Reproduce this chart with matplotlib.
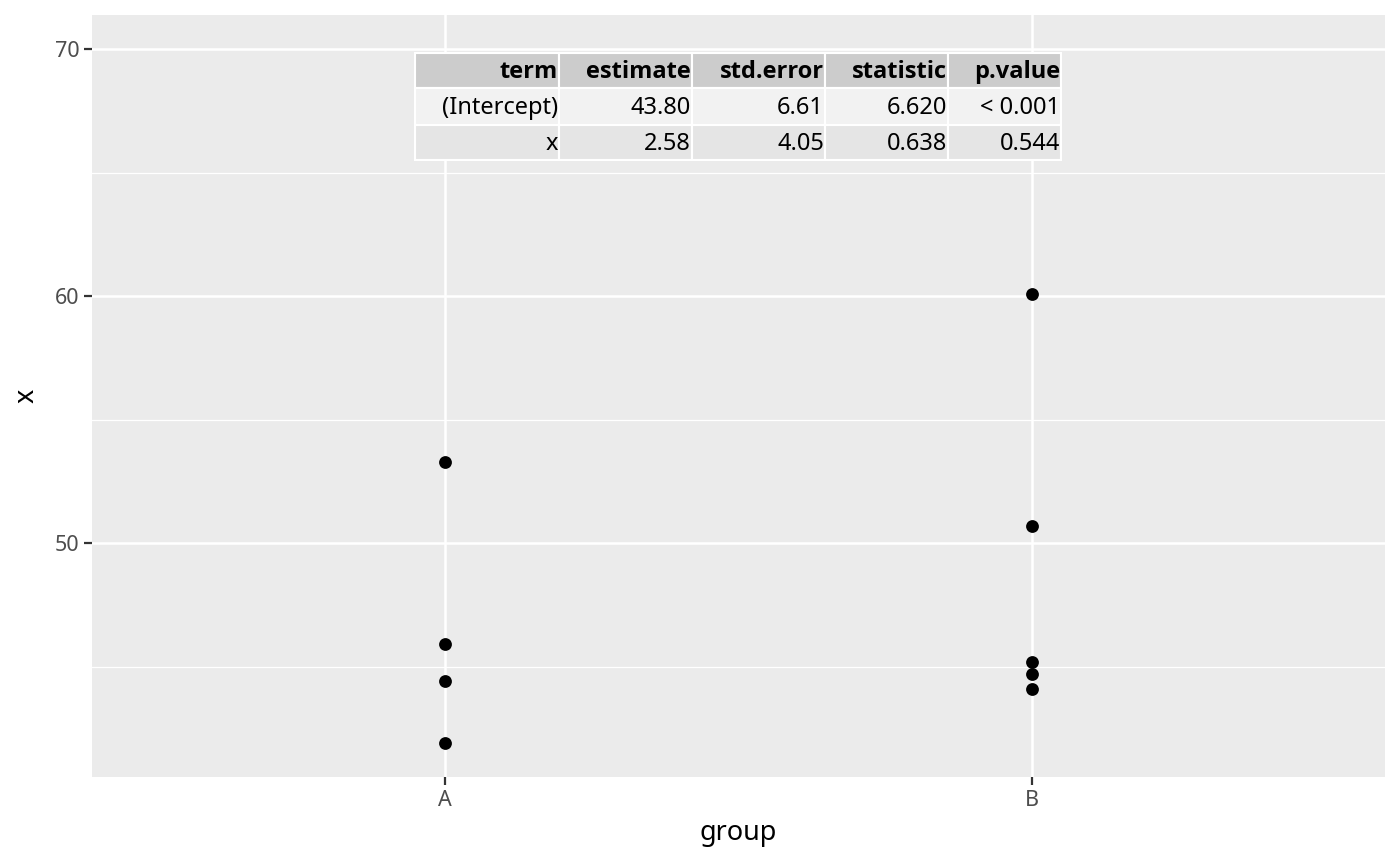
import matplotlib
matplotlib.use("Agg")
import matplotlib.pyplot as plt
from matplotlib.patches import Rectangle

plt.rcParams['font.family'] = ['Noto Sans', 'DejaVu Sans']

# data
groups = ["A", "B"]
values_a = [53.3, 45.9, 44.4, 41.9]
values_b = [60.1, 50.7, 45.2, 44.7, 44.1]

# regression table
col_names = ["term", "estimate", "std.error", "statistic", "p.value"]
terms = ["(Intercept)", "x"]
estimates = ["43.80", "2.58"]
std_errors = ["6.61", "4.05"]
statistics = ["6.620", "0.638"]
p_values = ["< 0.001", "0.544"]

W, H = 1400, 866
fig = plt.figure(figsize=(14, 8.66), dpi=100)
ax = fig.add_axes([92 / W, (H - 777) / H, 1293 / W, 762 / H])

ax.set_facecolor("#EBEBEB")
for s in ax.spines.values():
    s.set_visible(False)

ax.set_xlim(0.4, 2.6)
ax.set_ylim(40.53, 71.38)
ax.set_xticks([1, 2])
ax.set_xticklabels(groups)
ax.set_yticks([50, 60, 70])
ax.set_yticks([45, 55, 65], minor=True)
ax.tick_params(axis="both", which="major", length=6, width=1.6, color="#333333",
               labelcolor="#4D4D4D", labelsize=15.5, pad=3)
ax.tick_params(axis="both", which="minor", length=0)
ax.grid(True, which="major", color="white", linewidth=1.8)
ax.grid(True, which="minor", axis="y", color="white", linewidth=0.9)
ax.set_axisbelow(True)

ax.scatter([1] * len(values_a), values_a, s=85, color="black", zorder=3, linewidths=0)
ax.scatter([2] * len(values_b), values_b, s=85, color="black", zorder=3, linewidths=0)

ax.set_xlabel("group", fontsize=19.5, labelpad=6)
ax.set_ylabel("x", fontsize=19.5, labelpad=10)

# table drawn in pixel coordinates
col_edges = [415, 559, 692, 825, 948, 1061]
row_edges = [53, 88, 125, 160]
row_fill = ["#CCCCCC", "#F2F2F2", "#E5E5E5"]
rows = [col_names] + [list(r) for r in zip(terms, estimates, std_errors, statistics, p_values)]


def fx(px):
    return px / W


def fy(py):
    return (H - py) / H


for i, row in enumerate(rows):
    y0, y1 = row_edges[i], row_edges[i + 1]
    for j, txt in enumerate(row):
        x0, x1 = col_edges[j], col_edges[j + 1]
        fig.add_artist(Rectangle((fx(x0), fy(y1)), fx(x1) - fx(x0), fy(y0) - fy(y1),
                                 transform=fig.transFigure, facecolor=row_fill[i],
                                 edgecolor="white", linewidth=1.5, zorder=5))
        ty = fy((y0 + y1) / 2 + 2)
        if i == 0:
            fig.text(fx(x1 - 1), ty, txt, ha="right", va="center",
                     fontsize=17, fontweight="bold", family=["Open Sans", "DejaVu Sans"],
                     color="black", zorder=6)
        else:
            fig.text(fx(x1 - 1), ty, txt, ha="right", va="center",
                     fontsize=17, color="black", zorder=6)

fig.savefig("out.png", dpi=100)
